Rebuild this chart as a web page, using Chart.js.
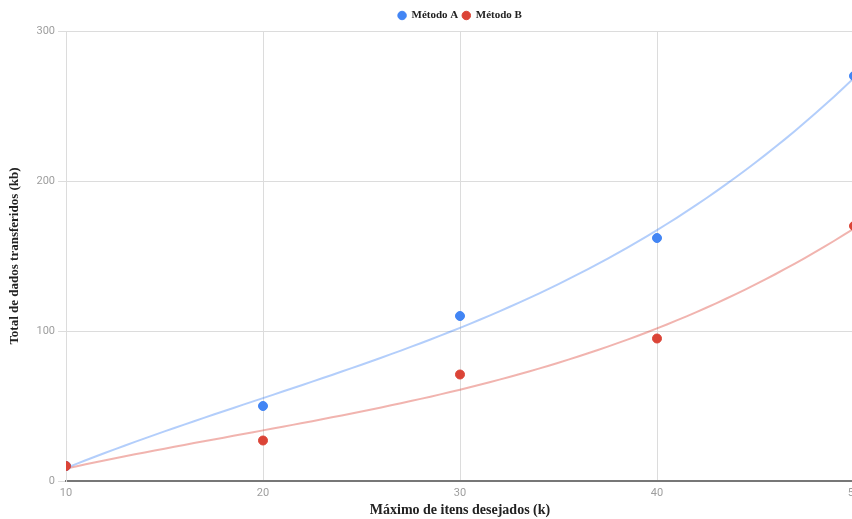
<!DOCTYPE html>
<html>
<head>
<meta charset="utf-8">
<script src="https://cdn.jsdelivr.net/npm/chart.js@4/dist/chart.umd.min.js"></script>
<style>
    body { margin: 0; overflow: hidden; background: #fff; }
    #wrap { width: 852px; height: 519px; overflow: hidden; }
</style>
</head>
<body>
<div id="wrap"><canvas id="chart" width="880" height="519"></canvas></div>
<script>
// Valores del eje x (máximo de itens desejados).
const K_VALUES = [10, 20, 30, 40, 50];
// Total de dados transferidos para cada método.
const METODO_A = [10, 50, 110, 162, 270];
const METODO_B = [10, 27, 71, 95, 170];
// Marcas del eje y.
const Y_TICKS = [0, 100, 200, 300];

const BLUE = '#4285f4';
const RED = '#db4437';
const GRID = '#dcdcdc';

/*
*   Función para calcular una línea de tendencia polinómica por mínimos cuadrados.
*   Parámetros: xs (valores x), ys (valores y), degree (grado).
*   Retorno: función que evalúa el polinomio.
*/
const polyFit = (xs, ys, degree) => {
    const n = degree + 1;
    const m = [];
    for (let i = 0; i < n; i++) {
        m.push([]);
        for (let j = 0; j < n; j++) {
            m[i].push(xs.reduce((s, x) => s + Math.pow(x, i + j), 0));
        }
        m[i].push(xs.reduce((s, x, k) => s + Math.pow(x, i) * ys[k], 0));
    }
    // Eliminación de Gauss.
    for (let i = 0; i < n; i++) {
        let p = i;
        for (let r = i + 1; r < n; r++) if (Math.abs(m[r][i]) > Math.abs(m[p][i])) p = r;
        [m[i], m[p]] = [m[p], m[i]];
        for (let r = 0; r < n; r++) {
            if (r === i) continue;
            const f = m[r][i] / m[i][i];
            for (let c = i; c <= n; c++) m[r][c] -= f * m[i][c];
        }
    }
    const coef = m.map((row, i) => row[n] / row[i]);
    return (x) => coef.reduce((s, c, i) => s + c * Math.pow(x, i), 0);
}

// Puntos de la línea de tendencia (grado 3), evaluados sobre el rango de x.
const trendPoints = (ys) => {
    const f = polyFit(K_VALUES, ys, 3);
    const pts = [];
    for (let x = K_VALUES[0]; x <= K_VALUES[K_VALUES.length - 1] + 0.001; x += 0.5) {
        pts.push({ x: x, y: f(x) });
    }
    return pts;
}

const toPoints = (ys) => K_VALUES.map((x, i) => ({ x: x, y: ys[i] }));

// Plugin para centrar la leyenda sobre el área del gráfico.
const centerLegend = {
    id: 'centerLegend',
    afterLayout: (chart) => {
        chart.legend.left = chart.chartArea.left;
        chart.legend.right = chart.chartArea.right;
    }
};

const context = document.getElementById('chart').getContext('2d');
const chart = new Chart(context, {
    type: 'scatter',
    data: {
        datasets: [{
            label: 'Método A',
            data: toPoints(METODO_A),
            backgroundColor: BLUE,
            borderColor: BLUE,
            pointRadius: 4.5,
            pointHoverRadius: 4.5,
            order: 1
        }, {
            label: 'Método B',
            data: toPoints(METODO_B),
            backgroundColor: RED,
            borderColor: RED,
            pointRadius: 4.5,
            pointHoverRadius: 4.5,
            order: 0
        }, {
            label: 'trend A',
            data: trendPoints(METODO_A),
            showLine: true,
            borderColor: 'rgba(66, 133, 244, 0.4)',
            borderWidth: 2,
            pointRadius: 0,
            tension: 0,
            order: 2
        }, {
            label: 'trend B',
            data: trendPoints(METODO_B),
            showLine: true,
            borderColor: 'rgba(219, 68, 55, 0.4)',
            borderWidth: 2,
            pointRadius: 0,
            tension: 0,
            order: 2
        }]
    },
    plugins: [centerLegend],
    options: {
        responsive: false,
        animation: false,
        devicePixelRatio: 1,
        layout: {
            padding: { top: 6, right: 26, bottom: 0, left: 0 }
        },
        plugins: {
            tooltip: { enabled: false },
            legend: {
                display: true,
                position: 'top',
                labels: {
                    filter: (item) => item.datasetIndex < 2,
                    sort: (a, b) => a.datasetIndex - b.datasetIndex,
                    usePointStyle: true,
                    pointStyle: 'circle',
                    boxWidth: 8,
                    boxHeight: 6,
                    padding: 4,
                    color: '#222',
                    font: { family: '"Liberation Serif"', size: 11, weight: 'bold' }
                }
            }
        },
        scales: {
            x: {
                type: 'linear',
                min: 10,
                max: 50,
                afterFit: (scale) => { scale.height = 38; },
                afterBuildTicks: (scale) => { scale.ticks = K_VALUES.map(v => ({ value: v })); },
                grid: { color: GRID, drawTicks: false },
                border: { color: '#777', width: 2 },
                ticks: {
                    padding: 6,
                    color: '#9e9e9e',
                    font: { family: 'Roboto', size: 11 }
                },
                title: {
                    display: true,
                    text: 'Máximo de itens desejados (k)',
                    color: '#222',
                    padding: { top: 0, bottom: 0 },
                    font: { family: '"Liberation Serif"', size: 14, weight: 'bold' }
                }
            },
            y: {
                min: 0,
                max: 300,
                afterFit: (scale) => { scale.width = 66; },
                afterBuildTicks: (scale) => { scale.ticks = Y_TICKS.map(v => ({ value: v })); },
                grid: { color: GRID, tickLength: 8 },
                border: { color: GRID, width: 1 },
                ticks: {
                    padding: 3,
                    color: '#9e9e9e',
                    font: { family: 'Roboto', size: 11 }
                },
                title: {
                    display: true,
                    text: 'Total de dados transferidos (kb)',
                    color: '#222',
                    padding: { top: 7, bottom: 0 },
                    font: { family: '"Liberation Serif"', size: 13, weight: 'bold' }
                }
            }
        }
    }
});
</script>
</body>
</html>
